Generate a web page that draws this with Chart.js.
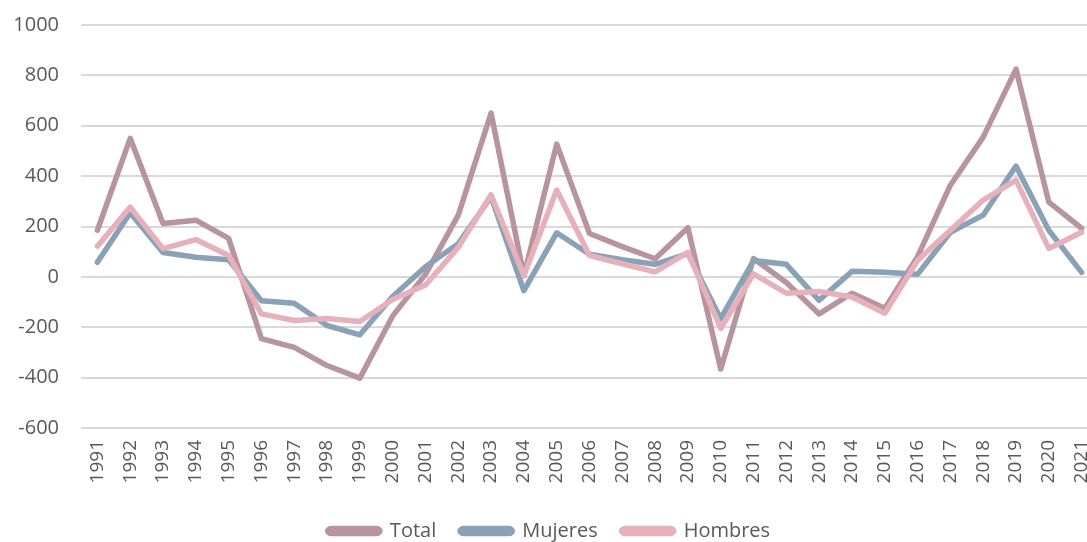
<!DOCTYPE html>
<html>
<head>
<meta charset="utf-8">
<script src="https://cdn.jsdelivr.net/npm/chart.js@4.4.1/dist/chart.umd.min.js"></script>
<style>
  html, body { margin: 0; padding: 0; background: #fff; overflow: hidden; }
  #chart { display: block; }
</style>
</head>
<body>
<canvas id="chart" width="1101" height="551"></canvas>
<script>
const years = ['1991','1992','1993','1994','1995','1996','1997','1998','1999','2000',
  '2001','2002','2003','2004','2005','2006','2007','2008','2009','2010',
  '2011','2012','2013','2014','2015','2016','2017','2018','2019','2020','2021'];

const total = [185, 550, 212, 225, 153, -245, -280, -352, -402, -155,
  10, 245, 650, 5, 527, 172, 120, 72, 195, -366,
  73, -22, -147, -65, -125, 80, 364, 555, 825, 297, 193];

const mujeres = [58, 255, 97, 78, 68, -95, -105, -193, -230, -78,
  40, 132, 318, -55, 175, 90, 68, 50, 92, -166,
  65, 50, -93, 22, 18, 10, 177, 245, 440, 185, 18];

const hombres = [122, 277, 112, 148, 85, -147, -173, -165, -177, -90,
  -32, 117, 326, 5, 345, 85, 52, 20, 97, -205,
  12, -65, -58, -80, -145, 65, 185, 305, 384, 113, 177];

const yMin = -600, yMax = 1000, yStep = 200;

const textColor = '#595959';
const font = 'Open Sans';

function lineSet(label, data, color, order) {
  return {
    label: label,
    data: data,
    borderColor: color,
    backgroundColor: color,
    borderWidth: 5.5,
    pointRadius: 0,
    tension: 0,
    borderJoinStyle: 'round',
    borderCapStyle: 'round',
    order: order
  };
}

new Chart(document.getElementById('chart').getContext('2d'), {
  type: 'line',
  data: {
    labels: years,
    datasets: [
      lineSet('Total', total, '#B7949E', 3),
      lineSet('Mujeres', mujeres, '#8AA2B7', 2),
      lineSet('Hombres', hombres, '#E6B1BA', 1)
    ]
  },
  options: {
    responsive: false,
    animation: false,
    layout: { padding: { top: 25, right: 3, bottom: 0, left: 0 } },
    plugins: {
      tooltip: { enabled: false },
      legend: {
        position: 'bottom',
        labels: {
          boxWidth: 52,
          boxHeight: 5,
          padding: 24,
          color: textColor,
          font: { family: font, size: 20 },
          useBorderRadius: true,
          borderRadius: 3,
          sort: (a, b) => a.datasetIndex - b.datasetIndex
        }
      }
    },
    scales: {
      x: {
        offset: true,
        grid: { display: false, drawTicks: false },
        border: { display: false },
        ticks: {
          minRotation: 90,
          maxRotation: 90,
          autoSkip: false,
          padding: 12,
          color: textColor,
          font: { family: font, size: 19 }
        },
        afterFit(scale) {
          scale.height = 69;
          scale.paddingLeft = 0;
          scale.paddingRight = 0;
        }
      },
      y: {
        min: yMin,
        max: yMax,
        grid: { color: '#D9D9D9', lineWidth: 2, drawTicks: false },
        border: { display: false },
        ticks: {
          stepSize: yStep,
          padding: 22,
          color: textColor,
          font: { family: font, size: 20 },
          callback: (v) => String(v)
        },
        afterFit(scale) {
          scale.width = 81;
          scale.paddingTop = 0;
          scale.paddingBottom = 0;
        }
      }
    }
  }
});
</script>
</body>
</html>
